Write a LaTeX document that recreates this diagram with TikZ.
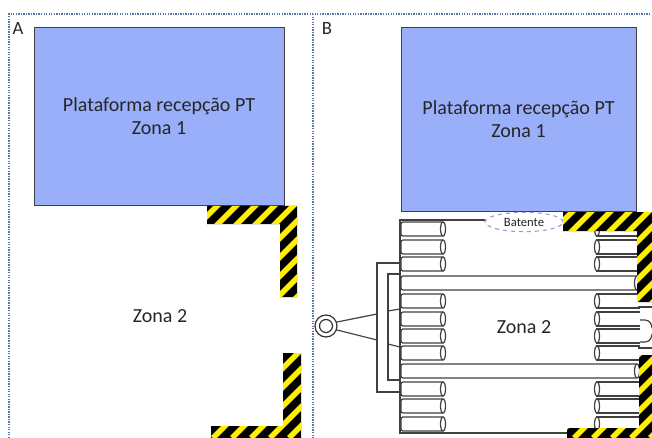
\documentclass[tikz,border=0pt]{standalone}
\usepackage{fontspec}
\setmainfont{Carlito}
\usetikzlibrary{shapes.geometric, positioning}

\definecolor{plataz}{RGB}{153,175,250}
\definecolor{pontilhado}{RGB}{84,118,166}
\definecolor{faixaam}{RGB}{255,240,0}
\definecolor{batlinha}{RGB}{165,145,215}

\begin{document}
\begin{tikzpicture}[x=0.75pt,y=-0.75pt,semithick,
plat/.style={rectangle, draw=black!75, fill=plataz, align=center, text=black!85, font=\fontsize{15}{17}\selectfont},
zona/.style={text=black!85, font=\fontsize{15}{17}\selectfont},
rotulo/.style={text=black!85, font=\fontsize{14}{15}\selectfont},
rolo/.style={draw=black!75, line width=0.9pt, fill=white},
quadro/.style={draw=black!75, line width=0.9pt}] % all coordinates are in pixels of the sheet, y goes down
\useasboundingbox (0,0) rectangle (652,438);

% the dotted frame, with the line between the two panels
\draw[pontilhado, line width=1.2pt, dash pattern=on 1pt off 0.9pt] (9,438) -- (9,14) -- (652,14);
\draw[pontilhado, line width=1.2pt, dash pattern=on 1pt off 0.9pt] (313,14) -- (313,438);
\node[rotulo](lblA) at (18,29){A};
\node[rotulo](lblB) at (327,29){B};

% zona 1, the platform, once in each panel
\node[plat, minimum width=187.5pt, minimum height=133.5pt](plataA) at (159,116){Plataforma recepção PT\\Zona 1};
\node[plat, minimum width=176.25pt, minimum height=138pt](plataB) at (518.5,119){Plataforma recepção PT\\Zona 1};

\node[zona](zonaA) at (160,316){Zona 2};

% panel B: the cart in zona 2
\draw[quadro] (485,220) -- (400,220) -- (400,433) -- (640,433); % outer frame of the cart
\foreach \y in {222,240,257,294,312,329,346,382,399,417}{
  \draw[rolo, rounded corners=1.5pt] (443,\y) -- (401,\y) -- (401,\y+14) -- (443,\y+14); % left rollers, cap on the right
  \draw[rolo] (443,\y+7) ellipse (2.5 and 7);
  \draw[rolo] (640,\y) -- (597,\y) -- (597,\y+14) -- (640,\y+14); % right rollers, cap on the left
  \draw[rolo] (597,\y+7) ellipse (2.5 and 7);
}
\foreach \y in {276,364}{
  \draw[rolo, rounded corners=1.5pt] (637,\y) -- (401,\y) -- (401,\y+14) -- (637,\y+14); % the two long bars
  \draw[rolo] (637,\y+7) ellipse (2.5 and 7);
}

% tow bar on the left, ring and two brackets
\node[circle, draw=black!80, line width=0.9pt, fill=white, minimum size=16.5pt, inner sep=0pt](argola) at (326,326){};
\draw[black!80, line width=0.9pt] (argola.center) circle (6.5);
\coordinate(barS) at (377,314);
\coordinate(barI) at (377,340);
\draw[quadro] (argola.20) -- (barS);
\draw[quadro] (argola.-20) -- (barI);
\draw[quadro] (400,263) -- (377,263) -- (377,392) -- (400,392); % outer bracket
\draw[quadro] (400,274) -- (388,274) -- (388,380) -- (400,380); % inner bracket
\draw[quadro] (388,311) -- (400,309);
\draw[quadro] (388,344) -- (400,347);

% tow hook on the right side, it runs off the sheet
\draw[quadro] (638,307) -- (652,307);
\draw[quadro] (638,348) -- (652,348);
\draw[quadro] (640,320) -- (645,320) .. controls (650,320) and (652,325) .. (652,328);
\draw[quadro] (640,342) -- (645,342) .. controls (650,342) and (652,337) .. (652,334);

\node[ellipse, draw=batlinha, dashed, thick, fill=white, minimum width=58.5pt, minimum height=14.5pt, inner sep=0pt, font=\fontsize{9.5}{10}\selectfont, text=black!85](bat) at (524,222){Batente};
\node[zona](zonaB) at (524,327){Zona 2};

% yellow and black safety stripes, the same pattern clipped to every bar
\begin{scope}
\clip (207,206) rectangle (297,224) (280,206) rectangle (297,297) % panel A, upper corner
      (283,353) rectangle (301,438) (211,426) rectangle (301,438) % panel A, lower corner
      (563,212) rectangle (652,231) (637,212) rectangle (652,302) % panel B, upper corner
      (639,355) rectangle (652,438) (567,428) rectangle (652,438); % panel B, lower corner
\fill[black] (150,150) rectangle (652,438);
\foreach \k in {-300,-281,...,660}
  \draw[faixaam, line width=4.2pt] (\k,438) -- ++(438,-438);
\end{scope}

\end{tikzpicture}
\end{document}
